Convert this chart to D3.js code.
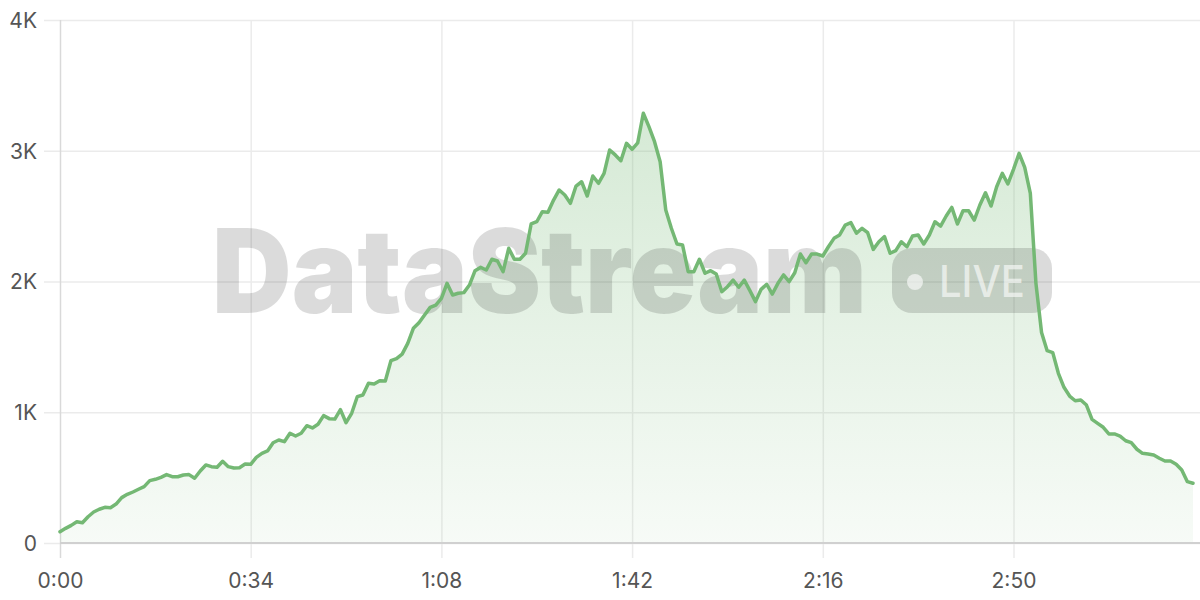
<!DOCTYPE html>
<html>
<head>
<meta charset="utf-8">
<script src="https://cdn.jsdelivr.net/npm/d3@7"></script>
<style>
  html, body { margin: 0; padding: 0; background: #ffffff; }
  svg { display: block; }
</style>
</head>
<body>
<svg id="chart" width="1200" height="600"></svg>
<script>
// ---- data (one value per second) ----
const values = [
  86, 112, 135, 163, 155, 201, 237, 258, 273, 270,
  298, 347, 372, 390, 411, 431, 477, 487, 502, 523,
  507, 507, 520, 523, 495, 551, 597, 584, 579, 625,
  584, 574, 576, 604, 602, 655, 686, 704, 767, 788,
  775, 839, 818, 839, 897, 880, 908, 974, 951, 948,
  1020, 920, 992, 1119, 1132, 1221, 1216, 1241, 1239, 1394,
  1410, 1445, 1527, 1642, 1685, 1744, 1802, 1820, 1871, 1986,
  1897, 1910, 1915, 1973, 2083, 2108, 2088, 2170, 2157, 2075,
  2254, 2170, 2170, 2216, 2440, 2457, 2534, 2529, 2623, 2700,
  2662, 2598, 2730, 2763, 2654, 2807, 2751, 2827, 3006, 2968,
  2924, 3057, 3011, 3060, 3287, 3184, 3069, 2916, 2547, 2407,
  2287, 2279, 2075, 2075, 2170, 2063, 2083, 2057, 1922, 1960,
  2011, 1956, 2011, 1930, 1846, 1940, 1979, 1904, 1986, 2050,
  1999, 2067, 2210, 2144, 2210, 2210, 2195, 2266, 2330, 2356,
  2432, 2450, 2369, 2407, 2373, 2246, 2304, 2343, 2216, 2236,
  2304, 2266, 2348, 2356, 2287, 2356, 2457, 2424, 2501, 2567,
  2440, 2541, 2541, 2470, 2585, 2679, 2577, 2725, 2827, 2746,
  2858, 2980, 2873, 2674, 1986, 1610, 1471, 1456, 1298, 1191,
  1124, 1088, 1094, 1055, 946, 915, 885, 834, 834, 818,
  782, 767, 717, 686, 681, 673, 648, 627, 627, 602,
  558, 469, 457
];
const seconds = values.map((v, i) => i);
const xTickValues = [0, 34, 68, 102, 136, 170];
const yTickValues = [0, 1000, 2000, 3000, 4000];
const yTickLabels = ["0", "1K", "2K", "3K", "4K"];
const watermarkText = "DataStream";
const badgeText = "LIVE";

(function () {
  const svg = d3.select("#chart");
  const mLeft = 60, mTop = 20, mBottom = 543, rightEdge = 1200;
  const pxPerSec = 190.7 / 34;
  const lastSec = seconds[seconds.length - 1];
  const labelFont = "Inter, 'Open Sans', sans-serif";

  const x = d3.scaleLinear()
    .domain([0, lastSec])
    .range([mLeft, mLeft + pxPerSec * lastSec]);
  const y = d3.scaleLinear().domain([0, 4000]).range([mBottom, mTop]);

  const fmtTime = t => `${Math.floor(t / 60)}:${String(t % 60).padStart(2, "0")}`;

  // gradient
  const defs = svg.append("defs");
  const grad = defs.append("linearGradient")
    .attr("id", "areaGrad")
    .attr("gradientUnits", "userSpaceOnUse")
    .attr("x1", 0).attr("x2", 0)
    .attr("y1", y(d3.max(values))).attr("y2", mBottom);
  grad.append("stop").attr("offset", "0%").attr("stop-color", "#74b874").attr("stop-opacity", 0.3);
  grad.append("stop").attr("offset", "100%").attr("stop-color", "#74b874").attr("stop-opacity", 0.06);

  // horizontal grid (y axis)
  const yAxis = d3.axisLeft(y)
    .tickValues(yTickValues)
    .tickFormat((d, i) => yTickLabels[i])
    .tickSize(-(rightEdge - mLeft))
    .tickPadding(0);
  const gy = svg.append("g").attr("transform", `translate(${mLeft},0)`).call(yAxis);
  gy.select(".domain").remove();
  gy.selectAll(".tick line")
    .attr("x1", -16)
    .attr("stroke", "#ebebeb")
    .attr("stroke-width", 1.5);
  gy.selectAll(".tick text")
    .attr("x", -23)
    .attr("dy", "0.35em")
    .attr("fill", "#555555")
    .style("font-family", labelFont)
    .style("font-size", "21px");

  // vertical grid (x axis)
  const xAxis = d3.axisBottom(x)
    .tickValues(xTickValues)
    .tickFormat(fmtTime)
    .tickSize(0);
  const gx = svg.append("g").attr("transform", `translate(0,${mBottom})`).call(xAxis);
  gx.select(".domain").remove();
  gx.selectAll(".tick line")
    .attr("y1", mTop - mBottom)
    .attr("y2", 15)
    .attr("stroke", (d) => d === 0 ? "#d9d9d9" : "#ebebeb")
    .attr("stroke-width", 1.5);
  gx.selectAll(".tick text")
    .attr("y", 38)
    .attr("dy", "0.35em")
    .attr("fill", "#555555")
    .style("font-family", labelFont)
    .style("font-size", "21px");

  // area
  const area = d3.area()
    .x((d, i) => x(seconds[i]))
    .y0(y(0))
    .y1(d => y(d));
  svg.append("path")
    .datum(values)
    .attr("d", area)
    .attr("fill", "url(#areaGrad)");

  // baseline
  svg.append("line")
    .attr("x1", mLeft).attr("x2", rightEdge)
    .attr("y1", y(0)).attr("y2", y(0))
    .attr("stroke", "#d0d0d0")
    .attr("stroke-width", 2);

  // watermark
  const wm = svg.append("g").attr("class", "watermark");
  wm.append("text")
    .attr("x", 212).attr("y", 313)
    .attr("textLength", 655)
    .attr("lengthAdjust", "spacingAndGlyphs")
    .attr("fill", "rgba(0,0,0,0.14)")
    .style("font-family", "Inter, 'Open Sans', sans-serif")
    .style("font-weight", 900)
    .style("font-size", "117px")
    .text(watermarkText);
  wm.append("rect")
    .attr("x", 892).attr("y", 248)
    .attr("width", 160).attr("height", 65)
    .attr("rx", 20).attr("ry", 20)
    .attr("fill", "rgba(0,0,0,0.14)");
  wm.append("circle")
    .attr("cx", 915).attr("cy", 282).attr("r", 8)
    .attr("fill", "rgba(255,255,255,0.6)");
  wm.append("text")
    .attr("x", 939).attr("y", 297)
    .attr("textLength", 86)
    .attr("lengthAdjust", "spacingAndGlyphs")
    .attr("fill", "rgba(255,255,255,0.6)")
    .style("font-family", "Inter, 'Open Sans', sans-serif")
    .style("font-weight", 500)
    .style("font-size", "44px")
    .text(badgeText);

  // line
  const line = d3.line()
    .x((d, i) => x(seconds[i]))
    .y(d => y(d));
  svg.append("path")
    .datum(values)
    .attr("d", line)
    .attr("fill", "none")
    .attr("stroke", "#74b874")
    .attr("stroke-width", 3.5)
    .attr("stroke-linejoin", "round")
    .attr("stroke-linecap", "round");
})();
</script>
</body>
</html>
